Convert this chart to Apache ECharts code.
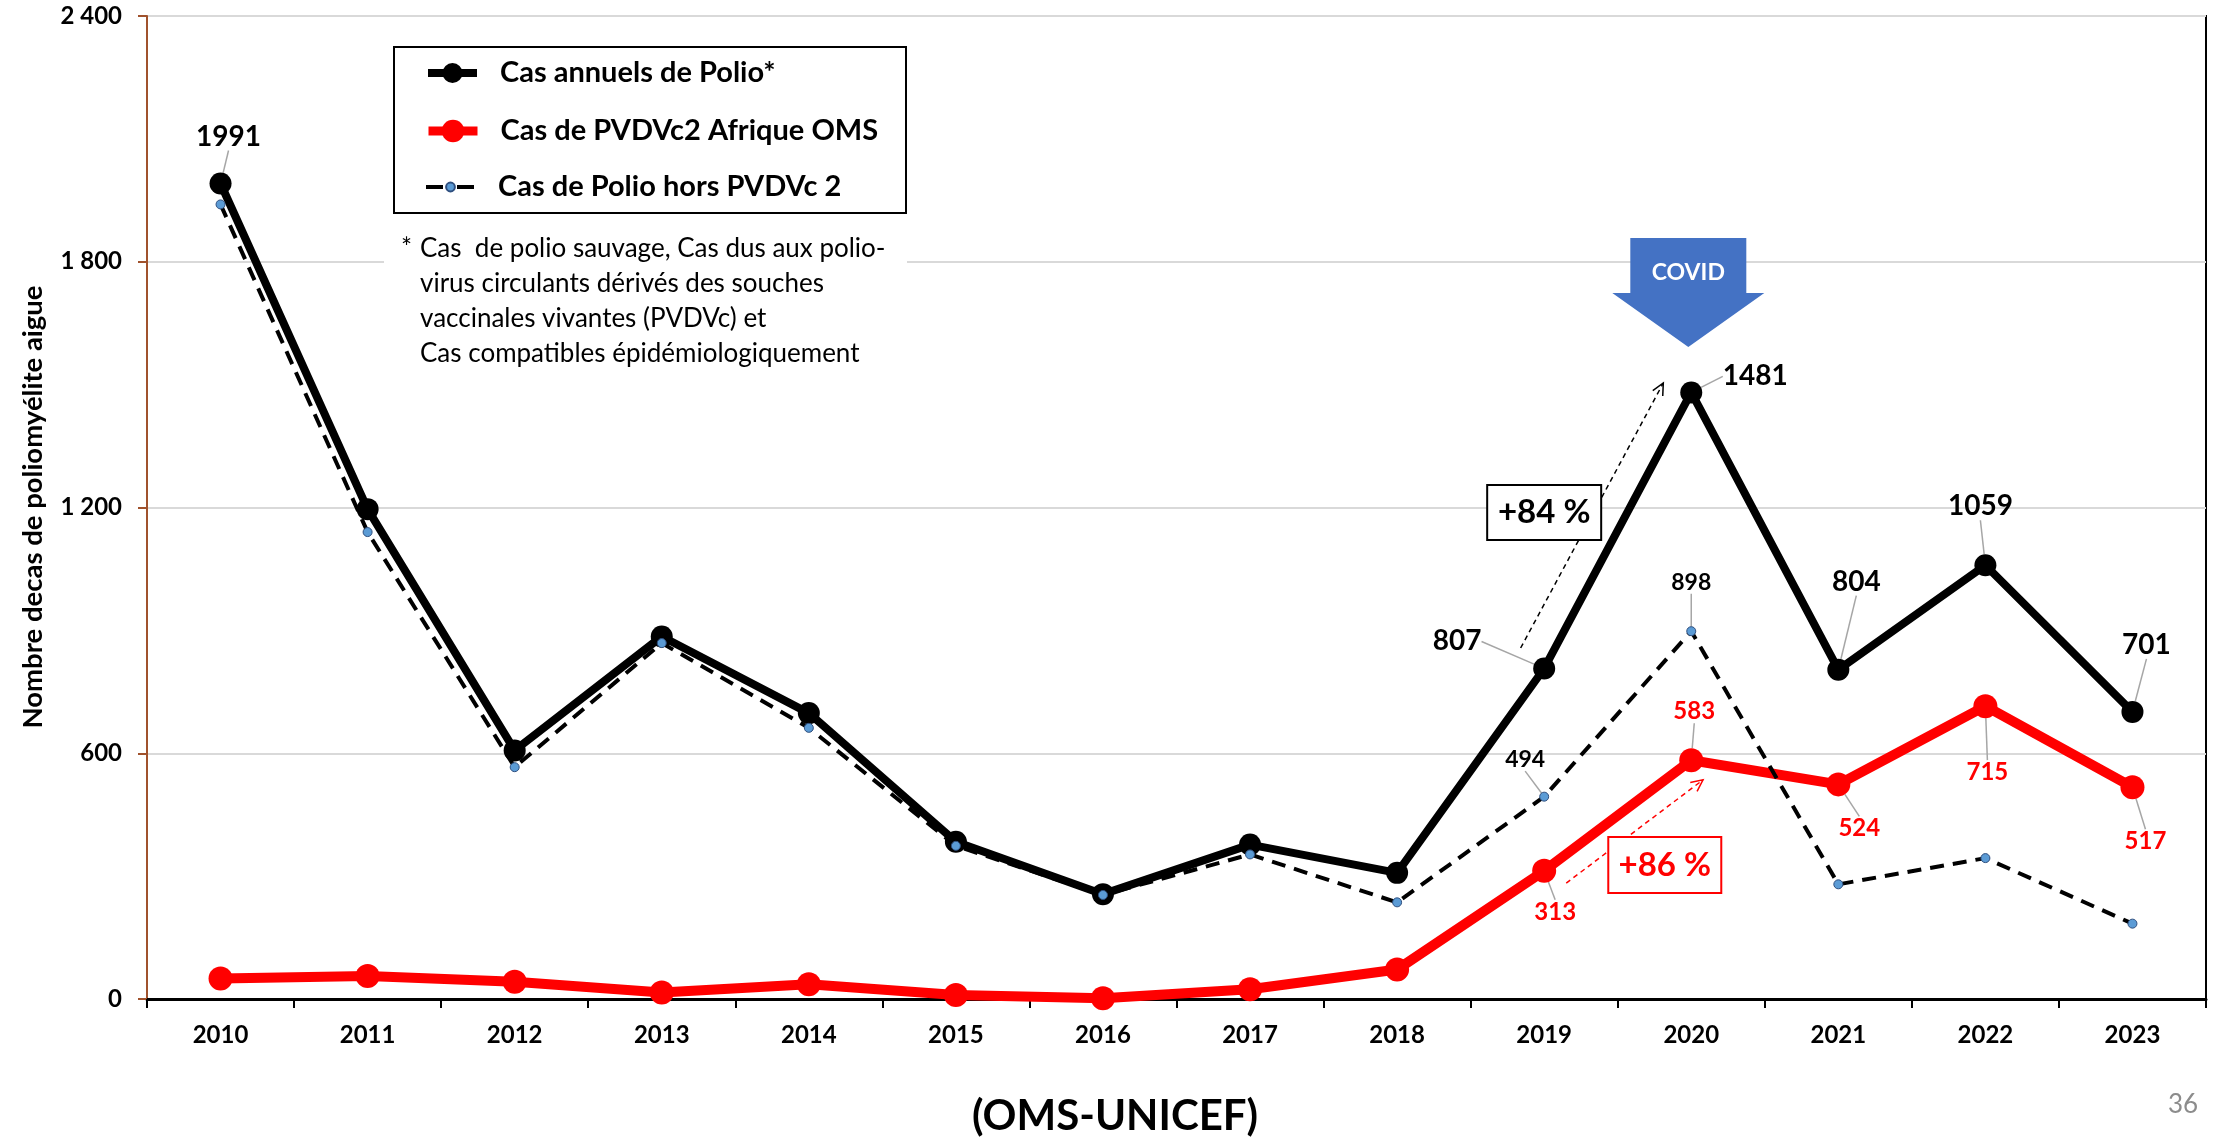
<!DOCTYPE html>
<html>
<head>
<meta charset="utf-8">
<title>Cas de poliomyélite</title>
<script src="https://cdn.jsdelivr.net/npm/echarts@6/dist/echarts.min.js"></script>
<style>
  html, body { margin: 0; padding: 0; background: #fff; }
  #chart { width: 2216px; height: 1141px; }
</style>
</head>
<body>
<div id="chart"></div>
<script>
const years = ["2010", "2011", "2012", "2013", "2014", "2015", "2016", "2017", "2018", "2019", "2020", "2021", "2022", "2023"];
const totalCases = [1991, 1196, 607, 885, 698, 384, 256, 377, 308, 807, 1481, 804, 1059, 701];
const cvdpv2Cases = [50, 56, 42, 16, 36, 10, 2, 24, 72, 313, 583, 524, 715, 517];
const otherCases = [1940, 1140, 566, 869, 662, 374, 254, 353, 236, 494, 898, 280, 344, 184];
const yTicks = [0, 600, 1200, 1800, 2400];
const seriesNames = ["Cas annuels de Polio*", "Cas de PVDVc2 Afrique OMS", "Cas de Polio hors PVDVc 2"];

const FONT = "Lato";

// where each shown value label sits, relative to its point (px)
const labelOffsets = [
  { 0: [8, -47], 9: [-87, -27], 10: [64, -16], 11: [18, -88], 12: [-5, -59], 13: [14, -67] },
  { 9: [11, 41], 10: [3, -49], 11: [21, 44], 12: [2, 66], 13: [13, 54] },
  { 9: [-19, -37], 10: [0, -49] },
];

const labelStyles = [
  { fontSize: 28, color: "#000" },
  { fontSize: 24, color: "#ff0000" },
  { fontSize: 23, color: "#000" },
];

function buildData(values, seriesIndex) {
  const offsets = labelOffsets[seriesIndex];
  return values.map((value, i) =>
    offsets[i] ? { value, label: { show: true } } : value
  );
}

function formatThousands(value) {
  return String(value).replace(/\B(?=(\d{3})+(?!\d))/g, " ");
}

function makeSeries(index, extra) {
  return Object.assign(
    {
      name: seriesNames[index],
      type: "line",
      showAllSymbol: true,
      symbol: "circle",
      animation: false,
      emphasis: { disabled: true },
      label: {
        show: false,
        position: "inside",
        fontFamily: FONT,
        fontWeight: "bold",
        fontSize: labelStyles[index].fontSize,
        color: labelStyles[index].color,
      },
      labelLine: {
        show: true,
        lineStyle: { color: "#a6a6a6", width: 1.5 },
      },
      labelLayout: (params) => {
        const off = labelOffsets[index][params.dataIndex];
        return off ? { dx: off[0], dy: off[1] } : {};
      },
    },
    extra
  );
}

// one legend per entry so each marker keeps its own size
function makeLegend(index, centerY, itemHeight, lineStyle, itemStyle) {
  return {
    orient: "vertical",
    left: 424,
    top: centerY - 17,
    padding: 0,
    itemWidth: 49,
    itemHeight,
    selectedMode: false,
    z: 4,
    lineStyle,
    itemStyle,
    textStyle: {
      fontFamily: FONT,
      fontWeight: "bold",
      fontSize: 29,
      color: "#000",
      lineHeight: 34,
      padding: [0, 0, 0, 18],
    },
    data: [seriesNames[index]],
  };
}

const chart = echarts.init(document.getElementById("chart"));

const option = {
  backgroundColor: "#fff",
  animation: false,
  textStyle: { fontFamily: FONT },
  grid: {
    left: 147,
    right: 10,
    top: 16,
    bottom: 142,
    show: true,
    borderColor: "#000",
    borderWidth: 2,
    backgroundColor: "#fff",
    outerBoundsMode: "none",
  },
  legend: [
    makeLegend(0, 73, 25, { width: 8, color: "#000" }, { color: "#000" }),
    makeLegend(1, 131, 28, { width: 9, color: "#ff0000" }, { color: "#ff0000" }),
    makeLegend(2, 187, 11, { width: 4, color: "#000", type: [17, 14] }, { color: "#5b9bd5" }),
  ],
  xAxis: {
    type: "category",
    data: years,
    boundaryGap: true,
    axisLine: { lineStyle: { color: "#000", width: 3 } },
    axisTick: { show: true, length: 9, lineStyle: { color: "#000", width: 2 } },
    axisLabel: {
      margin: 24,
      fontFamily: FONT,
      fontWeight: "bold",
      fontSize: 24,
      color: "#000",
    },
    splitLine: { show: false },
  },
  yAxis: {
    type: "value",
    min: yTicks[0],
    max: yTicks[yTicks.length - 1],
    interval: yTicks[1] - yTicks[0],
    axisLine: { show: true, lineStyle: { color: "#a0522d", width: 2 } },
    axisTick: { show: true, length: 9, lineStyle: { color: "#a0522d", width: 2 } },
    axisLabel: {
      margin: 25,
      fontFamily: FONT,
      fontWeight: "bold",
      fontSize: 24,
      color: "#000",
      formatter: formatThousands,
    },
    splitLine: { show: true, lineStyle: { color: "#d9d9d9", width: 2 } },
  },
  series: [
    makeSeries(0, {
      data: buildData(totalCases, 0),
      symbolSize: 22,
      itemStyle: { color: "#000" },
      lineStyle: { color: "#000", width: 8 },
    }),
    makeSeries(1, {
      data: buildData(cvdpv2Cases, 1),
      symbolSize: 24,
      itemStyle: { color: "#ff0000" },
      lineStyle: { color: "#ff0000", width: 10 },
    }),
    makeSeries(2, {
      data: buildData(otherCases, 2),
      symbolSize: 9,
      itemStyle: { color: "#5b9bd5", borderColor: "#2f4f7f", borderWidth: 1 },
      lineStyle: { color: "#000", width: 4, type: [14, 9] },
    }),
  ],
};

chart.setOption(option);

// pixel position of (category index, value), fractional index allowed
function toPx(idx, value) {
  const x0 = chart.convertToPixel({ xAxisIndex: 0 }, years[0]);
  const x1 = chart.convertToPixel({ xAxisIndex: 0 }, years[1]);
  return [x0 + (x1 - x0) * idx, chart.convertToPixel({ yAxisIndex: 0 }, value)];
}

function dashedArrow(from, to, color) {
  const a = toPx(from[0], from[1]);
  const b = toPx(to[0], to[1]);
  const ang = Math.atan2(b[1] - a[1], b[0] - a[0]);
  const headLen = 13;
  const spread = 0.45;
  const h1 = [b[0] - headLen * Math.cos(ang - spread), b[1] - headLen * Math.sin(ang - spread)];
  const h2 = [b[0] - headLen * Math.cos(ang + spread), b[1] - headLen * Math.sin(ang + spread)];
  return [
    {
      type: "line",
      z: 5,
      shape: { x1: a[0], y1: a[1], x2: b[0], y2: b[1] },
      style: { stroke: color, lineWidth: 1.5, lineDash: [5, 4] },
    },
    {
      type: "polyline",
      z: 5,
      shape: { points: [h1, b, h2] },
      style: { stroke: color, lineWidth: 1.5, fill: null },
    },
  ];
}

function percentBox(center, w, h, text, color) {
  const c = toPx(center[0], center[1]);
  return [
    {
      type: "rect",
      z: 6,
      shape: { x: c[0] - w / 2, y: c[1] - h / 2, width: w, height: h },
      style: { fill: "#fff", stroke: color, lineWidth: 2 },
    },
    {
      type: "text",
      z: 7,
      x: c[0],
      y: c[1],
      style: {
        text,
        fontFamily: FONT,
        fontWeight: "bold",
        fontSize: 33,
        fill: color,
        align: "center",
        verticalAlign: "middle",
      },
    },
  ];
}

function covidArrow(tipIdx, tipValue) {
  const t = toPx(tipIdx, tipValue);
  const tx = t[0];
  const ty = t[1];
  return [
    {
      type: "polygon",
      z: 6,
      shape: {
        points: [
          [tx - 58, ty - 109],
          [tx + 58, ty - 109],
          [tx + 58, ty - 54],
          [tx + 76, ty - 54],
          [tx, ty],
          [tx - 76, ty - 54],
          [tx - 58, ty - 54],
        ],
      },
      style: { fill: "#4472c4" },
    },
    {
      type: "text",
      z: 7,
      x: tx,
      y: ty - 74,
      style: {
        text: "COVID",
        fontFamily: FONT,
        fontWeight: "bold",
        fontSize: 23,
        fill: "#fff",
        align: "center",
        verticalAlign: "middle",
      },
    },
  ];
}

const graphics = [
  // legend frame
  {
    type: "rect",
    z: 3,
    shape: { x: 394, y: 47, width: 512, height: 166 },
    style: { fill: "#fff", stroke: "#000", lineWidth: 2 },
  },
  // white patch behind the footnote
  {
    type: "rect",
    z: 1,
    shape: { x: 384, y: 228, width: 523, height: 144 },
    style: { fill: "#fff" },
  },
  {
    type: "text",
    z: 10,
    x: 401,
    y: 231,
    style: { text: "*", fontFamily: FONT, fontSize: 26, fill: "#000", lineHeight: 35 },
  },
  {
    type: "text",
    z: 10,
    x: 420,
    y: 231,
    style: {
      text:
        "Cas  de polio sauvage, Cas dus aux polio-\n" +
        "virus circulants dérivés des souches\n" +
        "vaccinales vivantes (PVDVc) et\n" +
        "Cas compatibles épidémiologiquement",
      fontFamily: FONT,
      fontSize: 26,
      fill: "#000",
      lineHeight: 35,
    },
  },
  {
    type: "text",
    z: 10,
    x: 33,
    y: 507,
    rotation: Math.PI / 2,
    style: {
      text: "Nombre decas de poliomyélite aigue",
      fontFamily: FONT,
      fontWeight: "bold",
      fontSize: 27.5,
      fill: "#000",
      align: "center",
      verticalAlign: "middle",
    },
  },
  {
    type: "text",
    z: 10,
    x: 1115,
    y: 1116,
    style: {
      text: "(OMS-UNICEF)",
      fontFamily: FONT,
      fontWeight: "bold",
      fontSize: 42,
      fill: "#000",
      align: "center",
      verticalAlign: "middle",
    },
  },
  {
    type: "text",
    z: 10,
    x: 2183,
    y: 1105,
    style: {
      text: "36",
      fontFamily: FONT,
      fontSize: 26,
      fill: "#8c8c8c",
      align: "center",
      verticalAlign: "middle",
    },
  },
]
  .concat(covidArrow(9.98, 1592))
  .concat(dashedArrow([8.84, 857], [9.81, 1504], "#000"))
  .concat(percentBox([9, 1188], 114, 55, "+84 %", "#000"))
  .concat(dashedArrow([9.15, 283], [10.08, 535], "#ff0000"))
  .concat(percentBox([9.82, 327], 113, 56, "+86 %", "#ff0000"));

chart.setOption({ graphic: { elements: graphics } });
</script>
</body>
</html>
